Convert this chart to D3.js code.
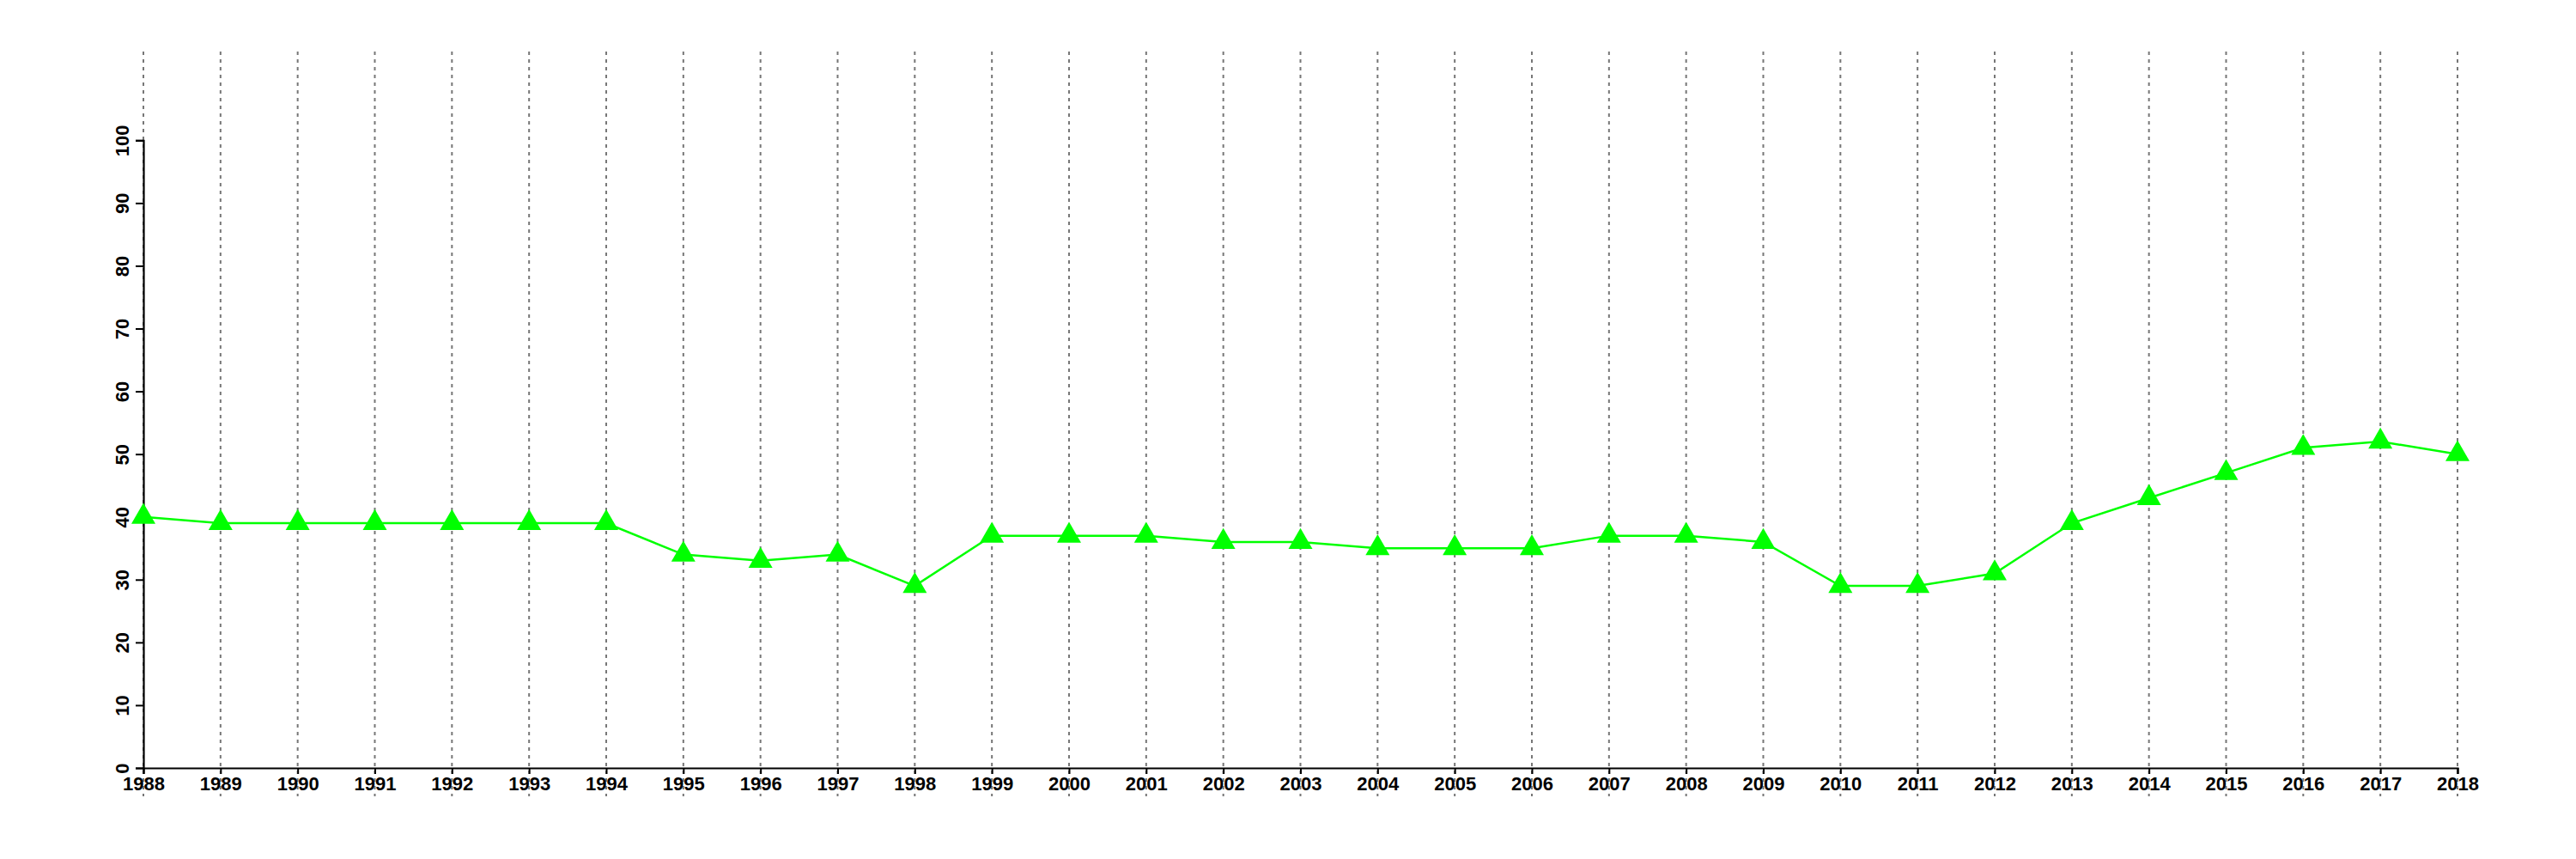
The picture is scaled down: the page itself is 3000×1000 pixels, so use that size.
<!DOCTYPE html>
<html>
<head>
<meta charset="utf-8">
<script src="https://cdn.jsdelivr.net/npm/d3@7"></script>
<style>
html,body{margin:0;padding:0;background:#fff;}
svg{display:block;}
text{font-family:"Liberation Sans",Arial,Helvetica,sans-serif;font-weight:bold;}
</style>
</head>
<body>
<svg id="chart" width="3000" height="1000"></svg>
<script>
const years = [1988,1989,1990,1991,1992,1993,1994,1995,1996,1997,1998,1999,2000,2001,2002,2003,2004,2005,2006,2007,2008,2009,2010,2011,2012,2013,2014,2015,2016,2017,2018];
const values = [40,39,39,39,39,39,39,34,33,34,29,37,37,37,36,36,35,35,35,37,37,36,29,29,31,39,43,47,51,52,50];
const yTicks = [0,10,20,30,40,50,60,70,80,90,100];

const svg = d3.select("#chart");
const x = d3.scaleLinear().domain([1988,2018]).range([167,2862]);
const y = d3.scaleLinear().domain([0,100]).range([894,163.3]);

// vertical dotted grid
svg.append("g").selectAll("line").data(years).join("line")
  .attr("x1",d=>x(d)).attr("x2",d=>x(d))
  .attr("y1",60).attr("y2",927)
  .attr("stroke","#777").attr("stroke-width",2)
  .attr("stroke-dasharray","4,5");

// x axis
const xAxis = svg.append("g").attr("transform","translate(0,894)")
  .call(d3.axisBottom(x).tickValues(years).tickFormat(d3.format("d")).tickSize(7).tickPadding(3));
xAxis.select(".domain").attr("stroke","#000").attr("stroke-width",2.2);
xAxis.selectAll(".tick line").attr("stroke","#000").attr("stroke-width",2);
xAxis.selectAll("text").attr("font-size",22).attr("fill","#000")
  .attr("font-family","'Liberation Sans',Arial,sans-serif").attr("font-weight","bold");

// y axis
const yAxis = svg.append("g").attr("transform","translate(167,0)")
  .call(d3.axisLeft(y).tickValues(yTicks).tickSize(9).tickPadding(8));
yAxis.select(".domain").attr("stroke","#000").attr("stroke-width",2.2);
yAxis.selectAll(".tick line").attr("stroke","#000").attr("stroke-width",2);
yAxis.selectAll("text").attr("font-size",22).attr("fill","#000")
  .attr("font-family","'Liberation Sans',Arial,sans-serif").attr("font-weight","bold")
  .attr("transform","rotate(-90)")
  .attr("x",0).attr("y",-17).attr("dy",0)
  .attr("text-anchor","middle");

// line
const data = years.map((yr,i)=>({yr, v:values[i]}));
svg.append("path").datum(data)
  .attr("fill","none").attr("stroke","#00ff00").attr("stroke-width",2.5)
  .attr("d", d3.line().x(d=>x(d.yr)).y(d=>y(d.v)));

// triangles
svg.append("g").selectAll("path").data(data).join("path")
  .attr("transform",d=>`translate(${x(d.yr)},${y(d.v)})`)
  .attr("d", d3.symbol().type(d3.symbolTriangle).size(340))
  .attr("fill","#00ff00");
</script>
</body>
</html>
